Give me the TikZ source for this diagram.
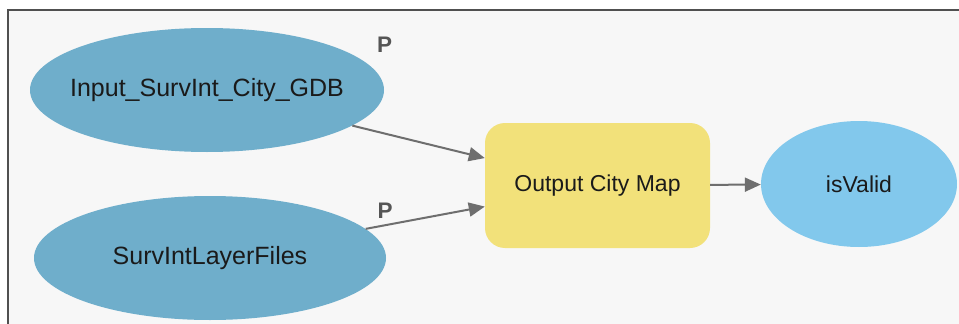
\documentclass[tikz,border=0pt]{standalone}
\usepackage{fontspec}
\setmainfont{Liberation Sans}
\usetikzlibrary{shapes.geometric,arrows.meta}
\definecolor{canvas}{HTML}{F7F7F7}
\definecolor{framegray}{HTML}{505050}
\definecolor{datablue}{HTML}{6FAECB}
\definecolor{valueblue}{HTML}{82C8EC}
\definecolor{toolyellow}{HTML}{F2E17A}
\definecolor{linkgray}{HTML}{6E6E6E}
\definecolor{labelgray}{HTML}{555555}
\definecolor{textdark}{HTML}{1A1A1A}
\tikzset{
  % ellipses get their size from minimum width/height; the caption is a centred label
  datanode/.style={ellipse, fill=datablue, inner sep=0pt,
    label={[text=textdark, font=\fontsize{25}{30}\selectfont, inner sep=0pt]center:#1}},
  valuenode/.style={ellipse, fill=valueblue, inner sep=0pt,
    label={[text=textdark, font=\fontsize{23}{28}\selectfont, inner sep=0pt]center:#1}},
  toolnode/.style={rectangle, rounded corners=20pt, fill=toolyellow, inner sep=0pt,
    text=textdark, font=\fontsize{23}{28}\selectfont},
  link/.style={draw=linkgray, line width=2pt,
    -{Triangle[length=16pt,width=14pt]}},
  paramtag/.style={text=labelgray, font=\fontsize{22.5}{26}\selectfont\bfseries, inner sep=0pt}
}
\begin{document}
\begin{tikzpicture}[x=1pt,y=-1pt]
  \useasboundingbox (0,0) rectangle (959,324);
  \clip (0,0) rectangle (959,324);
  % page and model canvas
  \fill[white] (0,0) rectangle (959,324);
  \draw[fill=canvas, draw=framegray, line width=2pt] (8,10) rectangle (980,340);

  % nodes
  \node[datanode={Input\_SurvInt\_City\_GDB}, minimum width=354pt, minimum height=124pt] (gdb) at (207,90) {};
  \node[datanode={SurvIntLayerFiles}, minimum width=352pt, minimum height=124pt] (lyr) at (210,258) {};
  \node[toolnode, minimum width=225pt, minimum height=125pt] (tool) at (597.5,185.5) {Output City Map};
  \node[valuenode={isValid}, minimum width=196pt, minimum height=126pt] (valid) at (859,184) {};

  % parameter markers
  \node[paramtag] (pgdb) at (384.5,44.5) {P};
  \node[paramtag] (plyr) at (385,210.5) {P};

  % connectors
  \draw[link] (gdb) -- (tool);
  \draw[link] (lyr) -- (tool);
  \draw[link] (tool) -- (valid);
\end{tikzpicture}
\end{document}
